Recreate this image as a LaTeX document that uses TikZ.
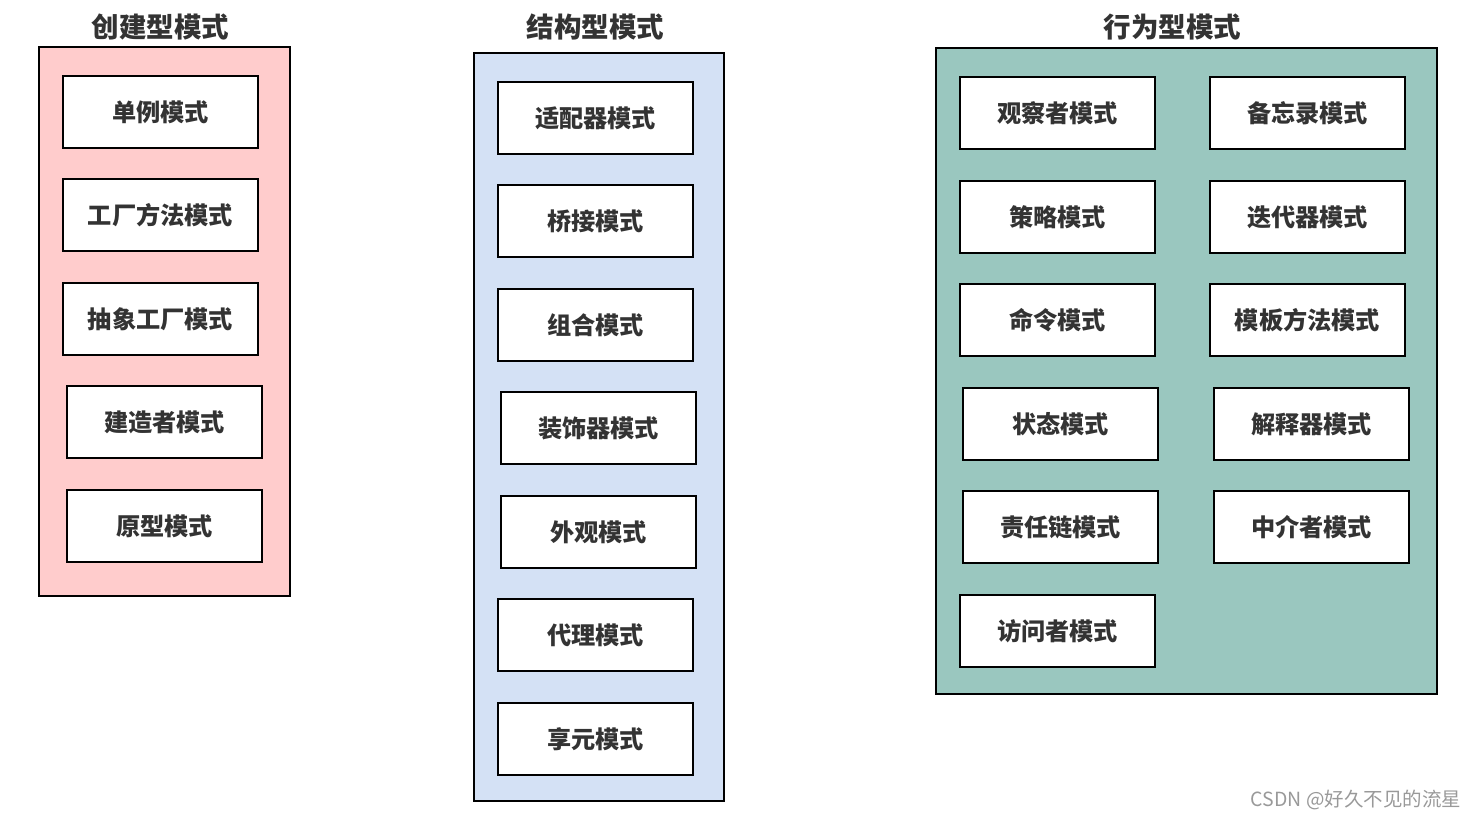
\documentclass[tikz,border=0pt]{standalone}
\usepackage{fontspec}
\newfontfamily\cjk{Noto Sans CJK SC}
\definecolor{createfill}{HTML}{FFCCCC}
\definecolor{structfill}{HTML}{D4E1F5}
\definecolor{behavefill}{HTML}{9AC7BF}
\definecolor{textgray}{HTML}{333333}
\tikzset{
  group/.style={draw=black, line width=1.3pt, inner sep=0pt},
  pattern/.style={draw=black, fill=white, line width=1.3pt, minimum width=195pt, minimum height=72pt,
    inner sep=0pt, text=textgray, font=\cjk\bfseries\fontsize{24.2}{28}\selectfont},
  grouptitle/.style={text=textgray, font=\cjk\bfseries\fontsize{27.5}{32}\selectfont}
}
\begin{document}
\begin{tikzpicture}[x=1pt, y=-1pt]
  \useasboundingbox (0,0) rectangle (1477,819);
  % groups
  \node[group, fill=createfill, minimum width=251pt, minimum height=549pt] (create) at (164.5,321.5) {};
  \node[group, fill=structfill, minimum width=250pt, minimum height=748pt] (struct) at (599,427) {};
  \node[group, fill=behavefill, minimum width=501pt, minimum height=646pt] (behave) at (1186.5,371) {};
  \node[grouptitle] (createtitle) at (160.5,27) {创建型模式};
  \node[grouptitle] (structtitle) at (595.5,27) {结构型模式};
  \node[grouptitle] (behavetitle) at (1172.5,27) {行为型模式};
  % creational
  \node[pattern] (singleton) at (160.5,112) {单例模式};
  \node[pattern] (factory) at (160.5,215) {工厂方法模式};
  \node[pattern] (absfactory) at (160.5,319) {抽象工厂模式};
  \node[pattern] (builder) at (164.5,422) {建造者模式};
  \node[pattern] (prototype) at (164.5,526) {原型模式};
  % structural
  \node[pattern] (adapter) at (595.5,118) {适配器模式};
  \node[pattern] (bridge) at (595.5,221) {桥接模式};
  \node[pattern] (composite) at (595.5,325) {组合模式};
  \node[pattern] (decorator) at (598.5,428) {装饰器模式};
  \node[pattern] (facade) at (598.5,532) {外观模式};
  \node[pattern] (proxy) at (595.5,635) {代理模式};
  \node[pattern] (flyweight) at (595.5,739) {享元模式};
  % behavioral
  \node[pattern] (observer) at (1057.5,113) {观察者模式};
  \node[pattern] (strategy) at (1057.5,217) {策略模式};
  \node[pattern] (command) at (1057.5,320) {命令模式};
  \node[pattern] (state) at (1060.5,424) {状态模式};
  \node[pattern] (chain) at (1060.5,527) {责任链模式};
  \node[pattern] (visitor) at (1057.5,631) {访问者模式};
  \node[pattern] (memento) at (1307.5,113) {备忘录模式};
  \node[pattern] (iterator) at (1307.5,217) {迭代器模式};
  \node[pattern] (template) at (1307.5,320) {模板方法模式};
  \node[pattern] (interpreter) at (1311.5,424) {解释器模式};
  \node[pattern] (mediator) at (1311.5,527) {中介者模式};
  % watermark
  \node[text=black!40, font=\cjk\fontsize{19.5}{22}\selectfont] (mark) at (1356,800) {CSDN @好久不见的流星};
\end{tikzpicture}
\end{document}
